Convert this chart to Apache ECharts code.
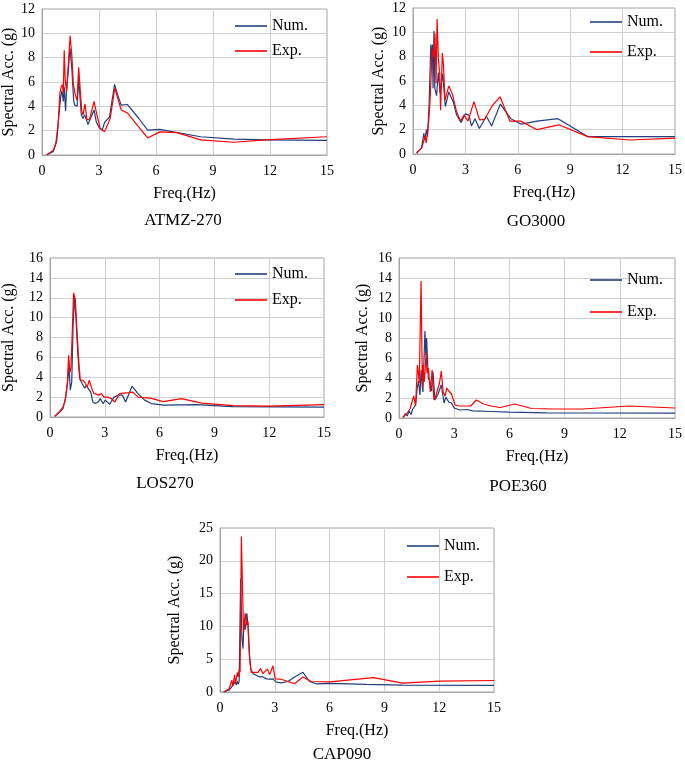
<!DOCTYPE html>
<html>
<head>
<meta charset="utf-8">
<script src="https://cdn.jsdelivr.net/npm/echarts@6/dist/echarts.min.js"></script>
<style>
  html, body { margin: 0; padding: 0; background: #fff; }
  #main { width: 685px; height: 761px; }
</style>
</head>
<body>
<div id="main"></div>
<script>
// 频率 (Hz) / 谱加速度 (g) 数据
const atmzNum = [[0.24,0],[0.6,0.3],[0.77,1.1],[0.89,3.3],[0.98,4.7],[1.05,5.3],[1.12,4.4],[1.17,5.6],[1.24,3.6],[1.29,5.3],[1.38,6.8],[1.47,8.8],[1.57,7.1],[1.67,4.4],[1.72,4.1],[1.85,4.0],[1.93,6.3],[2.07,3.3],[2.16,3.0],[2.25,3.3],[2.42,2.5],[2.5,2.4],[2.74,3.7],[2.86,2.7],[3.03,2.2],[3.17,2.05],[3.3,2.7],[3.55,3.1],[3.82,5.8],[3.99,4.9],[4.17,4.1],[4.5,4.15],[5.1,3.0],[5.56,2.05],[6.2,2.1],[6.9,1.9],[8.35,1.5],[10.1,1.3],[11.8,1.24],[15,1.2]];
const atmzExp = [[0.24,0],[0.6,0.4],[0.73,1.0],[0.85,2.5],[0.94,5.1],[1.01,5.6],[1.08,5.8],[1.12,5.1],[1.17,8.6],[1.22,6.2],[1.29,5.2],[1.38,7.4],[1.48,9.8],[1.57,8.2],[1.65,5.8],[1.76,4.9],[1.85,4.5],[1.93,7.2],[2.02,5.2],[2.09,3.6],[2.16,3.3],[2.26,4.2],[2.37,2.9],[2.5,2.9],[2.74,4.4],[2.89,3.3],[3.06,2.2],[3.29,1.9],[3.59,3.0],[3.83,5.5],[4.17,3.7],[4.5,3.45],[5.56,1.4],[6.2,1.9],[7.1,1.84],[8.35,1.24],[10.1,1.05],[11.8,1.24],[15,1.5]];

const go3000Num = [[0.21,0.05],[0.35,0.3],[0.49,0.5],[0.62,1.7],[0.68,1.15],[0.77,2.0],[0.83,1.4],[0.92,4.0],[1.02,9.0],[1.07,7.5],[1.11,9.0],[1.15,5.4],[1.2,10.1],[1.25,5.4],[1.35,4.8],[1.45,6.7],[1.55,5.0],[1.7,6.6],[1.85,3.9],[2.05,5.1],[2.3,4.3],[2.5,3.2],[2.75,2.6],[3.0,3.3],[3.2,3.2],[3.35,2.3],[3.55,2.9],[3.8,2.1],[4.2,3.1],[4.5,2.3],[5.0,4.1],[5.6,2.9],[6.2,2.45],[7.1,2.7],[8.3,2.9],[10,1.43],[15,1.43]];
const go3000Exp = [[0.2,0.1],[0.35,0.3],[0.5,0.5],[0.6,1.0],[0.7,1.5],[0.75,0.9],[0.82,1.6],[0.9,2.7],[0.98,4.5],[1.1,8.6],[1.18,8.0],[1.26,9.9],[1.32,5.8],[1.38,11.1],[1.45,7.9],[1.53,6.6],[1.58,3.6],[1.68,8.3],[1.75,7.2],[1.83,4.4],[2.05,5.6],[2.26,4.9],[2.49,3.5],[2.72,2.7],[2.92,3.2],[3.15,2.7],[3.49,4.3],[3.81,2.8],[4.1,2.85],[4.53,3.95],[4.98,4.7],[5.55,2.7],[6.17,2.7],[7.1,2.0],[8.34,2.4],[10,1.43],[12.4,1.15],[15,1.3]];

const los270Num = [[0.26,0.07],[0.53,0.5],[0.71,0.84],[0.84,1.85],[0.95,3.2],[1.04,5.2],[1.11,2.7],[1.19,3.5],[1.26,8.9],[1.33,12.1],[1.42,9.9],[1.53,6.2],[1.62,3.9],[1.75,3.4],[1.9,2.9],[1.99,3.2],[2.08,2.9],[2.23,2.5],[2.35,1.5],[2.48,1.35],[2.63,1.5],[2.75,1.85],[2.9,1.35],[3.03,1.7],[3.14,1.5],[3.27,1.28],[3.5,2.0],[3.76,2.2],[3.96,2.2],[4.14,1.5],[4.49,3.1],[4.82,2.35],[5.18,1.7],[5.55,1.35],[6.2,1.2],[8,1.25],[10,1.05],[15,1.0]];
const los270Exp = [[0.26,0.07],[0.53,0.57],[0.71,1.0],[0.84,1.7],[0.95,3.5],[1.02,6.2],[1.09,4.5],[1.15,5.0],[1.22,8.6],[1.29,12.5],[1.39,11.8],[1.5,7.9],[1.59,5.2],[1.66,3.7],[1.8,3.7],[1.93,3.4],[2.04,3.0],[2.15,3.7],[2.23,3.8],[2.32,2.7],[2.41,2.35],[2.54,2.3],[2.66,2.2],[2.81,2.35],[2.96,2.0],[3.17,2.0],[3.36,1.85],[3.54,1.5],[3.81,2.35],[4.33,2.45],[4.54,2.5],[4.82,2.0],[5.5,1.9],[6.2,1.55],[7.2,1.85],[8.3,1.4],[10,1.15],[12,1.1],[15,1.25]];

const poe360Num = [[0.23,0.05],[0.35,0.45],[0.45,0.2],[0.55,0.7],[0.65,0.35],[0.75,0.9],[0.85,0.7],[0.9,1.3],[0.99,3.0],[1.06,3.7],[1.14,2.3],[1.2,4.8],[1.3,2.6],[1.41,8.7],[1.46,6.3],[1.5,8.0],[1.59,4.0],[1.68,3.7],[1.77,2.7],[1.85,4.6],[1.95,1.8],[2.1,2.3],[2.3,3.3],[2.45,1.5],[2.55,2.1],[2.7,1.6],[2.85,1.5],[3.0,1.0],[3.3,0.8],[3.7,0.85],[4.0,0.72],[5,0.65],[6,0.58],[8,0.52],[10,0.5],[15,0.48]];
const poe360Exp = [[0.2,0.05],[0.4,0.4],[0.5,0.3],[0.6,0.9],[0.7,0.8],[0.8,2.2],[0.9,1.2],[1.0,5.3],[1.05,4.5],[1.1,3.5],[1.2,13.7],[1.27,3.0],[1.32,5.3],[1.37,3.6],[1.42,4.7],[1.47,6.6],[1.52,4.5],[1.6,5.0],[1.7,2.6],[1.8,4.8],[1.9,1.8],[2.0,2.2],[2.1,2.0],[2.2,3.5],[2.3,4.7],[2.4,2.6],[2.5,2.2],[2.6,3.0],[2.7,2.7],[2.85,2.4],[3.05,1.3],[3.3,1.2],[3.9,1.2],[4.2,1.8],[4.6,1.4],[5.0,1.2],[5.5,1.05],[6.3,1.4],[7.2,0.95],[8.5,0.9],[10,0.9],[12.5,1.2],[15,1.0]];

const cap090Num = [[0.2,0],[0.5,0.3],[0.7,1.0],[0.8,1.5],[0.9,1.1],[0.95,1.6],[1.0,1.2],[1.05,1.7],[1.1,2.0],[1.13,17.3],[1.2,8.2],[1.26,6.6],[1.31,10.7],[1.38,9.5],[1.47,12.0],[1.53,10.2],[1.6,6.1],[1.68,3.6],[1.8,2.8],[1.99,2.55],[2.17,2.3],[2.35,2.3],[2.54,2.0],[2.72,1.95],[2.9,2.0],[3.08,1.5],[3.35,1.4],[3.72,1.6],[4.08,2.3],[4.54,3.0],[4.9,1.6],[5.26,1.25],[6,1.3],[8,1.15],[10,1.05],[15,1.0]];
const cap090Exp = [[0.2,0],[0.5,0.5],[0.65,1.8],[0.7,0.9],[0.8,2.6],[0.85,1.2],[0.95,3.0],[1.0,2.3],[1.05,3.4],[1.1,3.0],[1.17,23.7],[1.24,15],[1.29,9.2],[1.38,12],[1.46,10.2],[1.53,10.7],[1.62,5.1],[1.71,3.0],[1.9,3.0],[2.08,3.0],[2.22,3.6],[2.35,2.8],[2.59,3.5],[2.72,2.65],[2.9,4.0],[3.02,2.0],[3.35,1.95],[3.72,1.6],[4.08,1.25],[4.54,2.3],[4.99,1.6],[6,1.55],[8.4,2.2],[10,1.35],[12,1.65],[15,1.75]];

const panelNames = ['ATMZ-270', 'GO3000', 'LOS270', 'POE360', 'CAP090'];
const yMax = [12, 12, 16, 16, 25];
const yStep = [2, 2, 2, 2, 5];
const panelData = [
    [atmzNum, atmzExp],
    [go3000Num, go3000Exp],
    [los270Num, los270Exp],
    [poe360Num, poe360Exp],
    [cap090Num, cap090Exp]
];

// 每个小图的位置
const layout = [
    { left: 40, top: 9, width: 287, height: 146, yGap: 25, legX: 235, legY: 18, legGap: 9, capX: 178, capY: 207 },
    { left: 413, top: 8, width: 265, height: 146, yGap: 26, legX: 590, legY: 14, legGap: 14, capX: 531, capY: 208 },
    { left: 50, top: 258, width: 274, height: 159, yGap: 33, legX: 235, legY: 266, legGap: 10, capX: 160, capY: 470 },
    { left: 399, top: 258, width: 278, height: 160, yGap: 28, legX: 590, legY: 272, legGap: 16, capX: 513, capY: 473 },
    { left: 220, top: 528, width: 274, height: 164, yGap: 37, legX: 407, legY: 538, legGap: 15, capX: 337, capY: 741 }
];

const FONT = "'Liberation Serif', 'Times New Roman', serif";
const NUM_COLOR = '#203f7c';
const EXP_COLOR = '#ff0000';
// 图例只画一条细线
const LINE_ICON = 'path://M0,0 L100,0 L100,5 L0,5 Z';

let myChart = echarts.init(document.getElementById('main'));

let grids = [], xAxes = [], yAxes = [], series = [], legends = [], titles = [];

for (let i = 0; i < 5; i++) {
    const L = layout[i];
    grids.push({
        left: L.left, top: L.top, width: L.width, height: L.height,
        show: true, borderColor: '#a6a6a6', borderWidth: 1, containLabel: false
    });
    xAxes.push({
        gridIndex: i, type: 'value', min: 0, max: 15, interval: 3,
        name: 'Freq.(Hz)', nameLocation: 'middle', nameGap: 31,
        nameTextStyle: { fontFamily: FONT, fontSize: 16, color: '#000' },
        axisLine: { show: true, lineStyle: { color: '#a6a6a6' } },
        axisTick: { show: false },
        axisLabel: { fontFamily: FONT, fontSize: 14, color: '#000', margin: 9 },
        splitLine: { show: true, lineStyle: { color: '#cfcfcf', width: 1 } }
    });
    yAxes.push({
        gridIndex: i, type: 'value', min: 0, max: yMax[i], interval: yStep[i],
        name: 'Spectral Acc. (g)', nameLocation: 'middle', nameGap: L.yGap,
        nameTextStyle: { fontFamily: FONT, fontSize: 16, color: '#000' },
        axisLine: { show: true, lineStyle: { color: '#a6a6a6' } },
        axisTick: { show: false },
        axisLabel: { fontFamily: FONT, fontSize: 14, color: '#000', margin: 7 },
        splitLine: { show: true, lineStyle: { color: '#cfcfcf', width: 1 } }
    });
    series.push({
        name: 'Num.', type: 'line', xAxisIndex: i, yAxisIndex: i,
        data: panelData[i][0], symbol: 'none', smooth: false,
        lineStyle: { color: NUM_COLOR, width: 1.2 }, itemStyle: { color: NUM_COLOR },
        animation: false
    });
    series.push({
        name: 'Exp.', type: 'line', xAxisIndex: i, yAxisIndex: i,
        data: panelData[i][1], symbol: 'none', smooth: false,
        lineStyle: { color: EXP_COLOR, width: 1.2 }, itemStyle: { color: EXP_COLOR },
        animation: false
    });
    legends.push({
        data: ['Num.', 'Exp.'], orient: 'vertical', left: L.legX, top: L.legY,
        padding: 0, icon: LINE_ICON,
        itemWidth: 32, itemHeight: 14, itemGap: L.legGap, selectedMode: false,
        textStyle: { fontFamily: FONT, fontSize: 16, color: '#000' }
    });
    titles.push({
        text: panelNames[i], left: L.capX, top: L.capY, textAlign: 'center',
        textStyle: { fontFamily: FONT, fontSize: 17, fontWeight: 'normal', color: '#000' }
    });
}

let option = {
    backgroundColor: '#fff',
    animation: false,
    title: titles,
    legend: legends,
    grid: grids,
    xAxis: xAxes,
    yAxis: yAxes,
    series: series
};

myChart.setOption(option);
</script>
</body>
</html>
